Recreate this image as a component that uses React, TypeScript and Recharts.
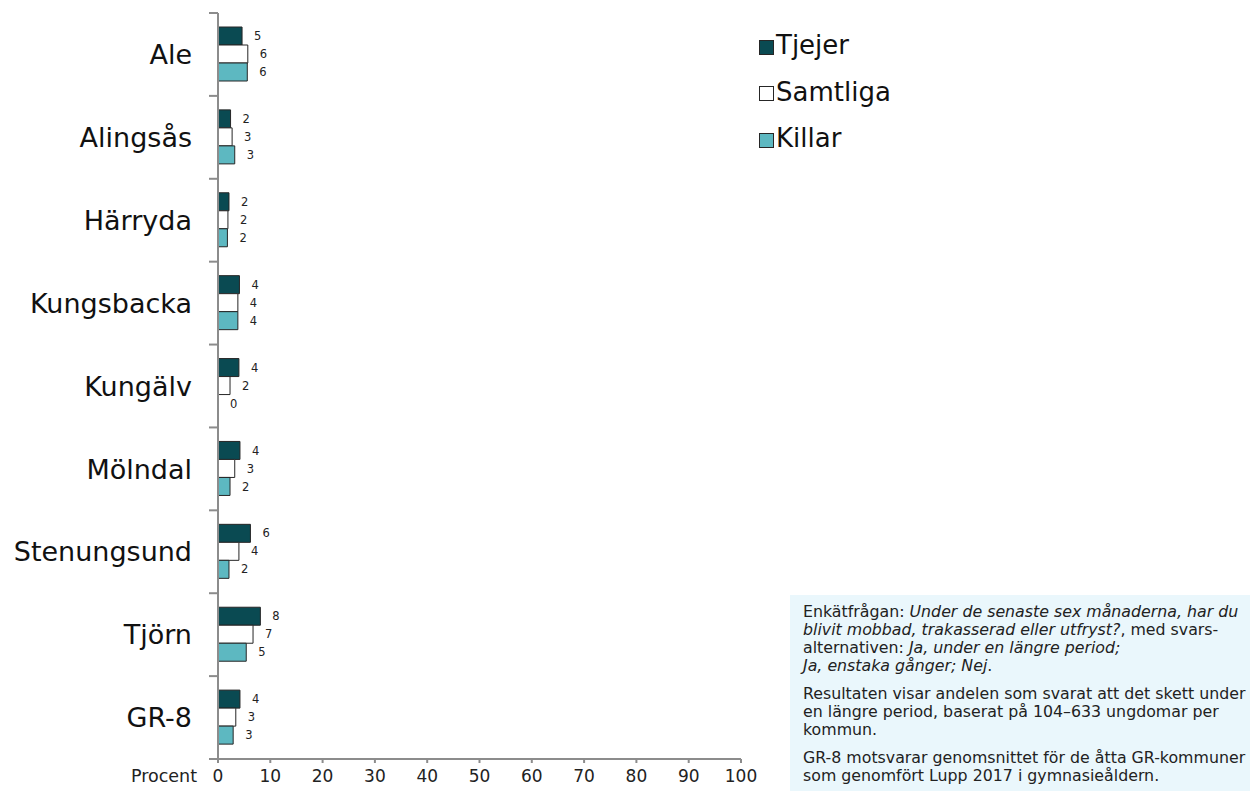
import { BarChart, Bar, XAxis, YAxis, LabelList, Cell } from 'recharts';

const categories = ['Ale', 'Alingsås', 'Härryda', 'Kungsbacka', 'Kungälv', 'Mölndal', 'Stenungsund', 'Tjörn', 'GR-8'];
const tjejer = [4.6, 2.4, 2.1, 4.1, 4.0, 4.2, 6.2, 8.1, 4.2];
const samtliga = [5.7, 2.7, 1.9, 3.8, 2.3, 3.2, 4.0, 6.7, 3.4];
const killar = [5.6, 3.2, 1.8, 3.8, 0, 2.3, 2.1, 5.4, 2.9];
const xTicks = [0, 10, 20, 30, 40, 50, 60, 70, 80, 90, 100];

const series = [
  { key: 'tjejer', name: 'Tjejer', fill: '#0a4a52', values: tjejer },
  { key: 'samtliga', name: 'Samtliga', fill: '#ffffff', values: samtliga },
  { key: 'killar', name: 'Killar', fill: '#5db8c1', values: killar },
];

const data = categories.map((name, i) => ({
  name,
  tjejer: tjejer[i],
  samtliga: samtliga[i],
  killar: killar[i],
}));

const FONT = '"DejaVu Sans", Verdana, sans-serif';
const AXIS = '#8c8c8c';
const TOP = 13;
const BOTTOM = 759;
const LEFT = 218;
const RIGHT = 741;
const BAND = (BOTTOM - TOP) / categories.length;

const CategoryTick = (props: any) => {
  const { y, payload, index } = props;
  return (
    <g>
      <line x1={LEFT - 9} x2={LEFT} y1={y - BAND / 2} y2={y - BAND / 2} stroke={AXIS} strokeWidth={2} />
      {index === categories.length - 1 && (
        <line x1={LEFT - 9} x2={LEFT} y1={y + BAND / 2} y2={y + BAND / 2} stroke={AXIS} strokeWidth={2} />
      )}
      <text x={192} y={y} dy="0.36em" textAnchor="end" fontSize={27} fill="#111" fontFamily={FONT}>
        {payload.value}
      </text>
    </g>
  );
};

const ValueTick = (props: any) => {
  const { x, y, payload } = props;
  return (
    <g>
      <text x={x} y={y + 17} textAnchor="middle" fontSize={17} fill="#222" fontFamily={FONT}>
        {payload.value}
      </text>
      {payload.value === 0 && (
        <text x={x - 21} y={y + 17} textAnchor="end" fontSize={17.5} fill="#222" fontFamily={FONT}>
          Procent
        </text>
      )}
    </g>
  );
};

// rounded value right of each bar, also when the bar is 0
const BarValue = (props: any) => {
  const { x, y, width, height, value } = props;
  return (
    <text x={x + width + 12} y={y + height / 2} dy="0.36em" fontSize={11.5} fill="#222" fontFamily={FONT}>
      {String(Math.round(Number(value)))}
    </text>
  );
};

const App = () => {
  return (
    <div style={{ position: 'absolute', left: 0, top: 0, width: 1250, height: 791, background: '#fff', fontFamily: FONT }}>
      <BarChart
        width={1250}
        height={791}
        data={data}
        layout="vertical"
        margin={{ top: TOP, right: 1250 - RIGHT, bottom: 0, left: 0 }}
        barCategoryGap={14}
        barGap={0}
      >
        <XAxis
          type="number"
          domain={[0, 100]}
          ticks={xTicks}
          interval={0}
          height={791 - BOTTOM}
          stroke={AXIS}
          strokeWidth={2}
          tickSize={4}
          tick={<ValueTick />}
        />
        <YAxis
          type="category"
          dataKey="name"
          width={LEFT}
          stroke={AXIS}
          strokeWidth={2}
          tickLine={false}
          interval={0}
          tick={<CategoryTick />}
        />
        {series.map((s) => (
          <Bar
            key={s.key}
            dataKey={s.key}
            name={s.name}
            fill={s.fill}
            stroke="#262626"
            strokeWidth={1}
            minPointSize={(v: any) => (Number(v) === 0 ? 0.01 : 0)}
            isAnimationActive={false}
          >
            {s.values.map((v, i) => (
              <Cell key={i} stroke={v === 0 ? 'none' : '#262626'} />
            ))}
            <LabelList dataKey={s.key} content={<BarValue />} />
          </Bar>
        ))}
      </BarChart>

      {/* legend */}
      <div style={{ position: 'absolute', left: 759, top: 22 }}>
        {series.map((s) => (
          <div key={s.key} style={{ display: 'flex', alignItems: 'center', height: 46.5 }}>
            <div style={{ width: 13, height: 13, background: s.fill, border: '1px solid #262626', marginRight: 2, marginTop: 4 }} />
            <span style={{ fontSize: 26, color: '#111', lineHeight: '30px' }}>{s.name}</span>
          </div>
        ))}
      </div>

      {/* note box */}
      <div
        style={{
          position: 'absolute',
          left: 790,
          top: 595,
          width: 460,
          height: 196,
          background: '#eaf7fc',
          boxSizing: 'border-box',
          padding: '8px 0 0 13px',
          fontSize: 15.8,
          lineHeight: '18px',
          color: '#222',
          whiteSpace: 'nowrap',
        }}
      >
        <div style={{ marginBottom: 10 }}>
          Enkätfrågan: <i>Under de senaste sex månaderna, har du</i>
          <br />
          <i>blivit mobbad, trakasserad eller utfryst?</i>, med svars-
          <br />
          alternativen: <i>Ja, under en längre period;</i>
          <br />
          <i>Ja, enstaka gånger; Nej</i>.
        </div>
        <div style={{ marginBottom: 10 }}>
          Resultaten visar andelen som svarat att det skett under
          <br />
          en längre period, baserat på 104–633 ungdomar per
          <br />
          kommun.
        </div>
        <div>
          GR-8 motsvarar genomsnittet för de åtta GR-kommuner
          <br />
          som genomfört Lupp 2017 i gymnasieåldern.
        </div>
      </div>
    </div>
  );
};

export default App;
